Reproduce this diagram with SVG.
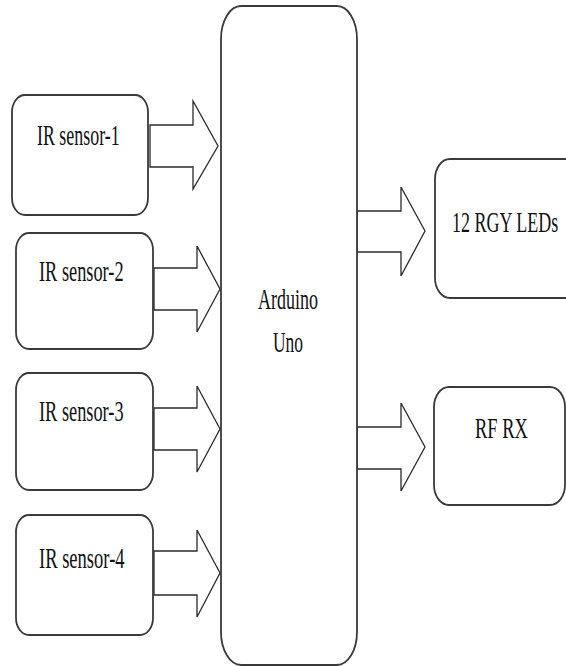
<svg xmlns="http://www.w3.org/2000/svg" width="566" height="666" viewBox="0 0 566 666">
<style>
.box{fill:#fff;stroke:#3a3a3a;stroke-width:1.8}
.arr{fill:#fff;stroke:#2a2a2a;stroke-width:1.3;stroke-linejoin:miter}
text{font-family:"Liberation Serif","Times New Roman",serif;font-size:30px;fill:#111}
</style>
<rect width="566" height="666" fill="#fff"/>
<g id="connectors">
<polygon class="arr" points="150,125 193,125 193,101 218,146 193,189 193,167 150,167"/>
<polygon class="arr" points="154,268 197,268 197,246 220,289 197,332 197,310 154,310"/>
<polygon class="arr" points="154,408 197,408 197,386 220,429 197,472 197,450 154,450"/>
<polygon class="arr" points="154,551 197,551 197,530 220,573 197,617 197,595 154,595"/>
<polygon class="arr" points="357,211 401,211 401,187 425,231 401,276 401,252 357,252"/>
<polygon class="arr" points="357,427 401,427 401,403 425,447 401,491 401,469 357,469"/>
</g>
<g id="sensor1"><rect class="box" x="12" y="95" width="136" height="120" rx="13" ry="17"/><text transform="translate(37,145) scale(0.597,1)">IR sensor-1</text></g>
<g id="sensor2"><rect class="box" x="16" y="233" width="137" height="116" rx="13" ry="17"/><text transform="translate(39,281) scale(0.611,1)">IR sensor-2</text></g>
<g id="sensor3"><rect class="box" x="16" y="373" width="137" height="117" rx="13" ry="17"/><text transform="translate(39,421) scale(0.611,1)">IR sensor-3</text></g>
<g id="sensor4"><rect class="box" x="16" y="515" width="137" height="120" rx="13" ry="17"/><text transform="translate(39,568) scale(0.618,1)">IR sensor-4</text></g>
<g id="arduino"><rect class="box" x="221" y="6" width="136" height="659" rx="20" ry="33"/><text transform="translate(258,309) scale(0.6,1)">Arduino</text><text transform="translate(273,352) scale(0.58,1)">Uno</text></g>
<g id="leds"><rect class="box" x="435" y="159" width="150" height="139" rx="15" ry="20"/><text transform="translate(452,232) scale(0.6,1)">12 RGY LEDs</text></g>
<g id="rfrx"><rect class="box" x="434" y="387" width="131" height="118" rx="15" ry="20"/><text transform="translate(475,438) scale(0.617,1)">RF RX</text></g>
</svg>
